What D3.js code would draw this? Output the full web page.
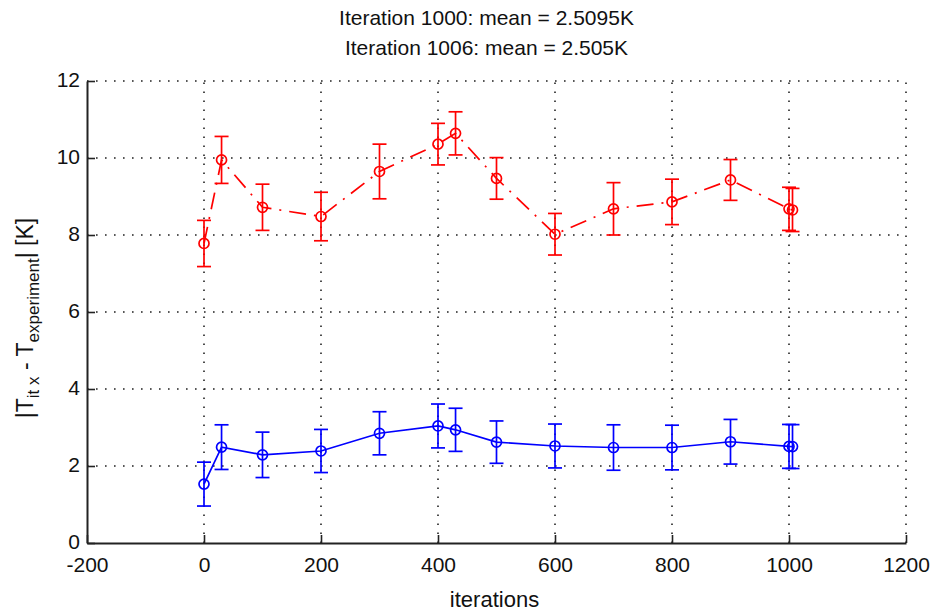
<!DOCTYPE html>
<html>
<head>
<meta charset="utf-8">
<script src="https://cdn.jsdelivr.net/npm/d3@7/dist/d3.min.js"></script>
<style>
  html, body { margin: 0; padding: 0; background: #fff; }
  svg { display: block; }
  text { font-family: "Liberation Sans", Arial, sans-serif; fill: #111; }
</style>
</head>
<body>
<svg id="chart" width="934" height="613"></svg>
<script>
// Iteration numbers at which the temperature error was evaluated
const iterations = [0, 30, 100, 200, 300, 400, 430, 500, 600, 700, 800, 900, 1000, 1006];

// Red series (upper curve): mean error and half-width of the error bar, in K
const redMean = [7.78, 9.95, 8.72, 8.48, 9.65, 10.36, 10.64, 9.47, 8.02, 8.68, 8.86, 9.43, 8.68, 8.65];
const redErr  = [0.60, 0.61, 0.60, 0.63, 0.71, 0.54, 0.56, 0.54, 0.54, 0.68, 0.59, 0.53, 0.56, 0.56];

// Blue series (lower curve): mean error and half-width of the error bar, in K
const blueMean = [1.53, 2.49, 2.29, 2.39, 2.85, 3.04, 2.94, 2.62, 2.52, 2.48, 2.48, 2.63, 2.5095, 2.505];
const blueErr  = [0.57, 0.58, 0.59, 0.56, 0.56, 0.57, 0.56, 0.55, 0.57, 0.59, 0.58, 0.58, 0.57, 0.57];

// Axis ticks
const xTicks = [-200, 0, 200, 400, 600, 800, 1000, 1200];
const yTicks = [0, 2, 4, 6, 8, 10, 12];

const titleLines = ["Iteration 1000: mean = 2.5095K", "Iteration 1006: mean = 2.505K"];
const xLabel = "iterations";

const svg = d3.select("#chart");
const margin = { left: 87, top: 81, right: 934 - 906, bottom: 613 - 543 };
const W = 934 - margin.left - margin.right;
const H = 613 - margin.top - margin.bottom;

const x = d3.scaleLinear().domain([-200, 1200]).range([0, W]);
const y = d3.scaleLinear().domain([0, 12]).range([H, 0]);

const g = svg.append("g").attr("transform", `translate(${margin.left},${margin.top})`);

// Dotted grid
const grid = g.append("g").attr("class", "grid")
  .attr("stroke", "#222").attr("stroke-width", 1.6).attr("stroke-dasharray", "1.6,7.4");
grid.selectAll("line.v").data(xTicks.slice(1)).join("line").attr("class", "v")
  .attr("x1", d => x(d)).attr("x2", d => x(d)).attr("y1", H).attr("y2", 0);
grid.selectAll("line.h").data(yTicks.slice(1)).join("line").attr("class", "h")
  .attr("x1", 0).attr("x2", W).attr("y1", d => y(d)).attr("y2", d => y(d));

// Axes with inward ticks; plain integer labels with an ASCII hyphen for negatives
const plain = d => String(d);
const xAxis = d3.axisBottom(x).tickValues(xTicks).tickFormat(plain)
  .tickSizeInner(-8).tickSizeOuter(0).tickPadding(14);
const yAxis = d3.axisLeft(y).tickValues(yTicks).tickFormat(plain)
  .tickSizeInner(-8).tickSizeOuter(0).tickPadding(7);

const gx = g.append("g").attr("transform", `translate(0,${H})`).call(xAxis);
const gy = g.append("g").call(yAxis);
[gx, gy].forEach(a => {
  a.select(".domain").attr("stroke", "#222").attr("stroke-width", 2);
  a.selectAll(".tick line").attr("stroke", "#222").attr("stroke-width", 1.6);
  a.selectAll(".tick text").style("font-size", "21px").attr("fill", "#111");
});
gy.selectAll(".tick text").attr("dy", "0.25em");

// One series: connecting line, error bars with caps, circle markers
function drawSeries(means, errs, color, dash) {
  const s = g.append("g");
  const pts = iterations.map((it, i) => ({ it, m: means[i], e: errs[i] }));
  const line = d3.line().x(d => x(d.it)).y(d => y(d.m));
  s.append("path").datum(pts).attr("d", line)
    .attr("fill", "none").attr("stroke", color).attr("stroke-width", 1.7)
    .attr("stroke-dasharray", dash);
  const cap = 7;
  const bars = s.selectAll("g.bar").data(pts).join("g").attr("class", "bar")
    .attr("stroke", color).attr("stroke-width", 1.7).attr("fill", "none");
  bars.append("line").attr("x1", d => x(d.it)).attr("x2", d => x(d.it))
    .attr("y1", d => y(d.m - d.e)).attr("y2", d => y(d.m + d.e));
  bars.append("line").attr("x1", d => x(d.it) - cap).attr("x2", d => x(d.it) + cap)
    .attr("y1", d => y(d.m + d.e)).attr("y2", d => y(d.m + d.e));
  bars.append("line").attr("x1", d => x(d.it) - cap).attr("x2", d => x(d.it) + cap)
    .attr("y1", d => y(d.m - d.e)).attr("y2", d => y(d.m - d.e));
  bars.append("circle").attr("cx", d => x(d.it)).attr("cy", d => y(d.m)).attr("r", 5);
}

drawSeries(redMean, redErr, "#ff0000", "17,8,2,8");
drawSeries(blueMean, blueErr, "#0000ff", null);

// Title (two lines)
svg.selectAll("text.title").data(titleLines).join("text").attr("class", "title")
  .attr("x", margin.left + W / 2 - 10).attr("y", (d, i) => 25 + i * 30)
  .attr("text-anchor", "middle").style("font-size", "21px").text(d => d);

// X axis label
svg.append("text").attr("x", margin.left + W / 2 - 2).attr("y", 607)
  .attr("text-anchor", "middle").style("font-size", "22px").text(xLabel);

// Y axis label with subscripts
const yl = svg.append("text")
  .attr("transform", `translate(33,${margin.top + H / 2 + 6}) rotate(-90)`)
  .attr("text-anchor", "middle").style("font-size", "23px");
yl.append("tspan").text("|T");
yl.append("tspan").attr("dy", 6).style("font-size", "17px").text("it x");
yl.append("tspan").attr("dy", -6).text(" - T");
yl.append("tspan").attr("dy", 6).style("font-size", "17px").text("experiment");
yl.append("tspan").attr("dy", -6).text("| [K]");
</script>
</body>
</html>
